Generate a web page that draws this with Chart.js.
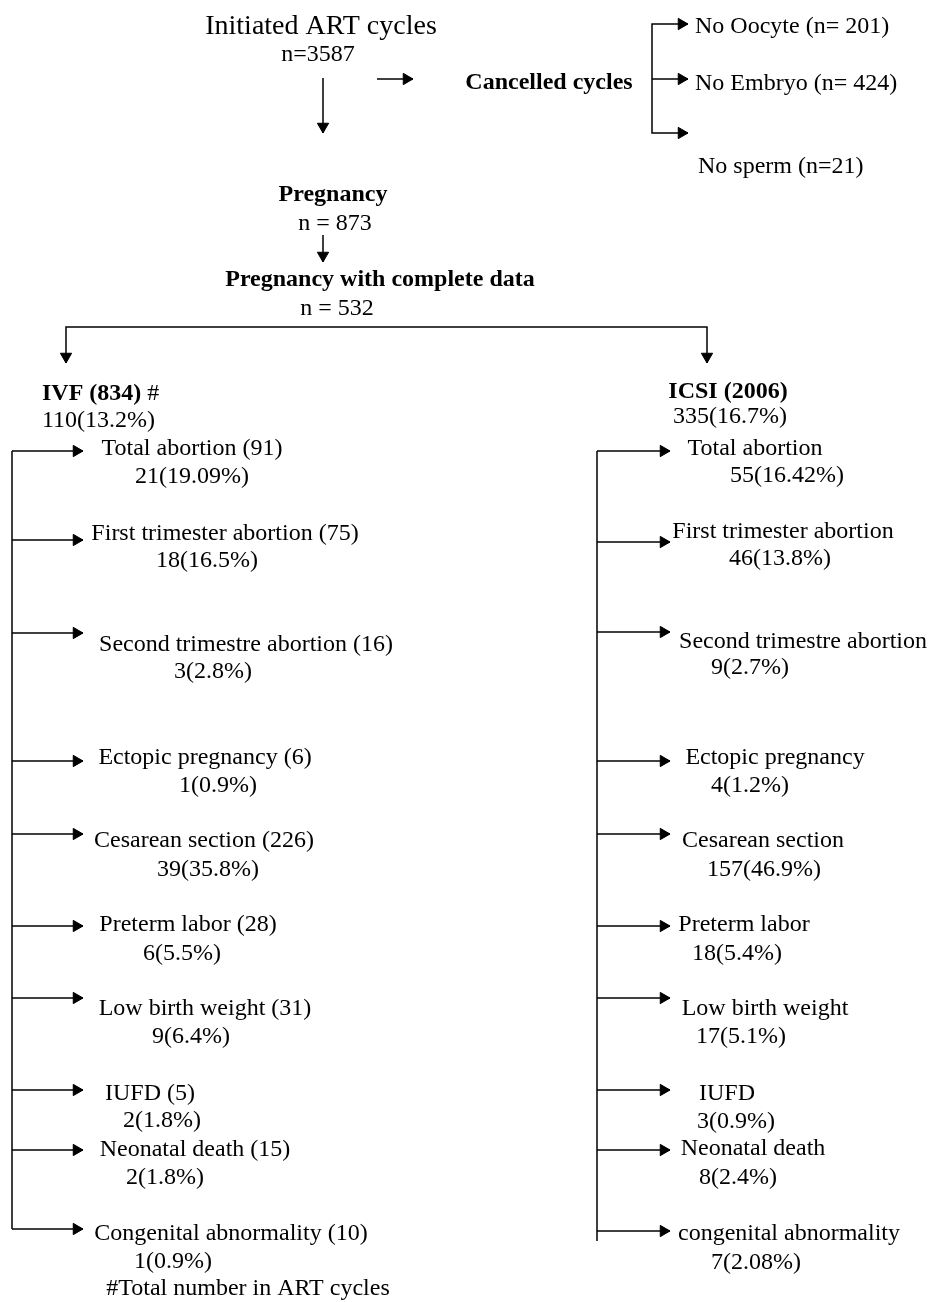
<!DOCTYPE html>
<html>
<head>
<meta charset="utf-8">
<title>ART cycles flowchart</title>
<script src="https://cdn.jsdelivr.net/npm/chart.js@4.4.1/dist/chart.umd.min.js"></script>
<style>
  html, body { margin: 0; padding: 0; background: #fff; }
  #wrap { width: 933px; height: 1302px; }
</style>
</head>
<body>
<div id="wrap"><canvas id="mycanvas"></canvas></div>
<script>
// values
var initiatedCycles = 3587;
var pregnancyTotal = 873;
var completeData = 532;

var cancelReasons = ['No Oocyte', 'No Embryo', 'No sperm'];
var cancelCounts = [201, 424, 21];

var groupCycles = [834, 2006];        // IVF, ICSI
var groupPregnancies = [110, 335];
var groupPregnancyPct = [13.2, 16.7];

var outcomes = ['Total abortion', 'First trimester abortion', 'Second trimestre abortion',
  'Ectopic pregnancy', 'Cesarean section', 'Preterm labor', 'Low birth weight',
  'IUFD', 'Neonatal death', 'Congenital abnormality'];
var icsiOutcomes = outcomes.slice(0, 9).concat(['congenital abnormality']);
var ivfTotals = [91, 75, 16, 6, 226, 28, 31, 5, 15, 10];
var ivfCounts = [21, 18, 3, 1, 39, 6, 9, 2, 2, 1];
var ivfPct = [19.09, 16.5, 2.8, 0.9, 35.8, 5.5, 6.4, 1.8, 1.8, 0.9];
var icsiCounts = [55, 46, 9, 4, 157, 18, 17, 3, 8, 7];
var icsiPct = [16.42, 13.8, 2.7, 1.2, 46.9, 5.4, 5.1, 0.9, 2.4, 2.08];

// layout, in sheet units (1 unit = 1 px of the 933x1302 page)
var W = 933, H = 1302;
var leftBus = 12, leftTip = 83;
var rightBus = 597, rightTip = 670;
var leftArrowY = [451, 540, 633, 761, 834, 926, 998, 1090, 1150, 1229];
var leftNameX  = [192, 225, 246, 205, 204, 188, 205, 150, 195, 231];
var leftNameY  = [447, 532, 643, 756, 839, 923, 1007, 1092, 1148, 1232];
var leftValX   = [192, 207, 213, 218, 208, 182, 191, 162, 165, 173];
var leftValY   = [475, 559, 670, 784, 868, 952, 1035, 1119, 1176, 1260];
var rightArrowY = [451, 542, 632, 761, 834, 926, 998, 1090, 1150, 1231];
var rightNameX  = [755, 783, 803, 775, 763, 744, 765, 727, 753, 789];
var rightNameY  = [447, 530, 640, 756, 839, 923, 1007, 1092, 1147, 1232];
var rightValX   = [787, 780, 750, 750, 764, 737, 741, 736, 738, 756];
var rightValY   = [474, 557, 666, 784, 868, 952, 1035, 1120, 1176, 1261];
var cancelY = [25, 82, 165];
var cancelX = [695, 695, 698];
var cancelSep = ['n= ', 'n= ', 'n='];
var headR = 6.5;
var textNudge = 2; // serif glyphs sit a little high on a 'middle' baseline

// connector lines
var paths = [
  [[323, 78], [323, 133]],
  [[377, 79], [413, 79]],
  [[688, 24], [652, 24], [652, 133], [688, 133]],
  [[652, 79], [688, 79]],
  [[323, 235], [323, 262]],
  [[66, 363], [66, 327], [707, 327], [707, 363]],
  [[leftBus, leftArrowY[0]], [leftBus, 1229]],
  [[rightBus, rightArrowY[0]], [rightBus, 1241]]
];
// arrow tips: x, y, direction
var tips = [
  [323, 133, 'down'], [413, 79, 'right'],
  [688, 24, 'right'], [688, 79, 'right'], [688, 133, 'right'],
  [323, 262, 'down'], [66, 363, 'down'], [707, 363, 'down']
];
leftArrowY.forEach(function(y) {
  paths.push([[leftBus, y], [leftTip, y]]);
  tips.push([leftTip, y, 'right']);
});
rightArrowY.forEach(function(y) {
  paths.push([[rightBus, y], [rightTip, y]]);
  tips.push([rightTip, y, 'right']);
});

// texts
var texts = [];
function txt(t, x, y, opt) {
  var o = opt || {};
  texts.push({ t: t, x: x, y: y, bold: o.bold, size: o.size || 24, align: o.align || 'center', suffix: o.suffix });
}
txt('Initiated ART cycles', 321, 25, { size: 28 });
txt('n=' + initiatedCycles, 318, 53);
txt('Cancelled cycles', 549, 81, { bold: true });
cancelReasons.forEach(function(r, i) {
  txt(r + ' (' + cancelSep[i] + cancelCounts[i] + ')', cancelX[i], cancelY[i], { align: 'left' });
});
txt('Pregnancy', 333, 193, { bold: true });
txt('n = ' + pregnancyTotal, 335, 222);
txt('Pregnancy with complete data', 380, 278, { bold: true });
txt('n = ' + completeData, 337, 307);

txt('IVF (' + groupCycles[0] + ')', 42, 392, { bold: true, align: 'left', suffix: ' #' });
txt(groupPregnancies[0] + '(' + groupPregnancyPct[0] + '%)', 42, 419, { align: 'left' });
txt('ICSI (' + groupCycles[1] + ')', 728, 390, { bold: true });
txt(groupPregnancies[1] + '(' + groupPregnancyPct[1] + '%)', 730, 415);

outcomes.forEach(function(name, i) {
  txt(name + ' (' + ivfTotals[i] + ')', leftNameX[i], leftNameY[i]);
  txt(ivfCounts[i] + '(' + ivfPct[i] + '%)', leftValX[i], leftValY[i]);
  txt(icsiOutcomes[i], rightNameX[i], rightNameY[i]);
  txt(icsiCounts[i] + '(' + icsiPct[i] + '%)', rightValX[i], rightValY[i]);
});
txt('#Total number in ART cycles', 248, 1287);

var fontFamily = '"Liberation Serif", "Times New Roman", serif';

var textPlugin = {
  id: 'flowText',
  afterDatasetsDraw: function(chart) {
    var ctx = chart.ctx, sx = chart.scales.x, sy = chart.scales.y;
    ctx.save();
    ctx.fillStyle = '#000';
    ctx.textBaseline = 'middle';
    texts.forEach(function(o) {
      var px = sx.getPixelForValue(o.x), py = sy.getPixelForValue(o.y) + textNudge;
      ctx.font = (o.bold ? 'bold ' : '') + o.size + 'px ' + fontFamily;
      ctx.textAlign = o.align;
      ctx.fillText(o.t, px, py);
      if (o.suffix) {
        var w = ctx.measureText(o.t).width;
        ctx.font = o.size + 'px ' + fontFamily;
        ctx.textAlign = 'left';
        ctx.fillText(o.suffix, px + w, py);
      }
    });
    ctx.restore();
  }
};

var datasets = paths.map(function(p) {
  return {
    data: p.map(function(q) { return { x: q[0], y: q[1] }; }),
    showLine: true,
    borderColor: '#000',
    borderWidth: 1.5,
    pointRadius: 0,
    fill: false,
    tension: 0
  };
});
datasets.push({
  data: tips.map(function(t) {
    return t[2] === 'down' ? { x: t[0], y: t[1] - headR } : { x: t[0] - headR, y: t[1] };
  }),
  showLine: false,
  pointStyle: 'triangle',
  pointRadius: headR,
  pointRotation: tips.map(function(t) { return t[2] === 'down' ? 180 : 90; }),
  pointBackgroundColor: '#000',
  pointBorderColor: '#000',
  pointBorderWidth: 1
});

var ctx = document.getElementById('mycanvas');
var flow = new Chart(ctx, {
  type: 'scatter',
  data: { datasets: datasets },
  options: {
    responsive: true,
    maintainAspectRatio: false,
    animation: false,
    events: [],
    layout: { padding: 0, autoPadding: false },
    plugins: { legend: { display: false }, tooltip: { enabled: false } },
    scales: {
      x: { type: 'linear', min: 0, max: W, display: false },
      y: { type: 'linear', min: 0, max: H, reverse: true, display: false }
    }
  },
  plugins: [textPlugin]
});
</script>
</body>
</html>
